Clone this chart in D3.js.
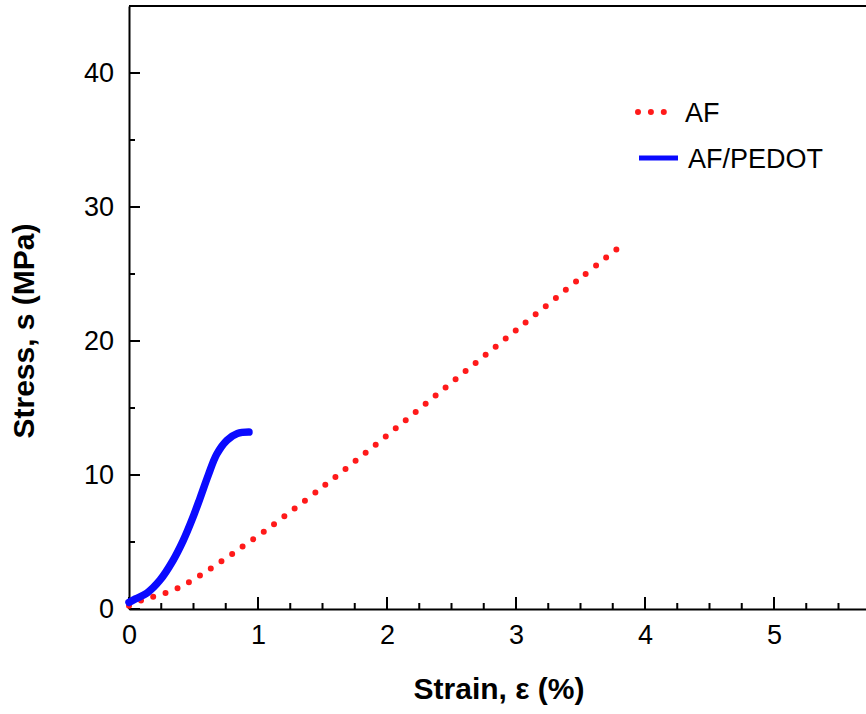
<!DOCTYPE html>
<html>
<head>
<meta charset="utf-8">
<script src="https://cdn.jsdelivr.net/npm/d3@7"></script>
<style>
  body { margin: 0; background: #fff; }
  svg { display: block; }
  text { font-family: Arial, "Liberation Sans", sans-serif; }
</style>
</head>
<body>
<div id="graph_draw"></div>
<script>
// data
var afStrain = [0, 0.1, 0.2, 0.3, 0.4, 0.5, 0.6, 0.7, 0.8, 0.9, 1.0, 1.5, 2.0, 2.5, 3.0, 3.5, 3.8];
var afStress = [0.25, 0.65, 0.95, 1.25, 1.65, 2.2, 2.8, 3.45, 4.1, 4.8, 5.45, 9.1, 12.95, 16.9, 20.8, 24.7, 27.0];

var pedotStrain = [0, 0.05, 0.14, 0.24, 0.34, 0.42, 0.49, 0.55, 0.615, 0.68, 0.76, 0.84, 0.93];
var pedotStress = [0.5, 0.75, 1.2, 2.15, 3.6, 5.1, 6.7, 8.25, 10.0, 11.55, 12.6, 13.1, 13.2];

var xTicks = [0, 1, 2, 3, 4, 5];
var yTicks = [0, 10, 20, 30, 40];
var xMinor = [0.25, 0.5, 0.75, 1.25, 1.5, 1.75, 2.25, 2.5, 2.75, 3.25, 3.5, 3.75, 4.25, 4.5, 4.75, 5.25, 5.5, 5.75];
var yMinor = [5, 15, 25, 35];

var seriesNames = ["AF", "AF/PEDOT"];

// set the dimensions of the graph
var width = 866, height = 714;
var margin = {left: 129, bottom: 609, top: 6};

var x = d3.scaleLinear().domain([0, 6]).range([margin.left, margin.left + 6 * 129]);
var y = d3.scaleLinear().domain([0, 45]).range([margin.bottom, margin.top]);

var svg = d3.select("#graph_draw").append("svg")
    .attr("width", width)
    .attr("height", height);

// top border
svg.append("line")
    .attr("x1", margin.left).attr("x2", width)
    .attr("y1", y(45)).attr("y2", y(45))
    .attr("stroke", "#000").attr("stroke-width", 2);

// X Axis
svg.append("g")
    .attr("transform", "translate(0," + margin.bottom + ")")
    .call(d3.axisBottom(x).tickValues(xTicks).tickSize(0).tickFormat(d3.format("d")))
    .call(function(g) {
        g.select(".domain").attr("stroke-width", 2);
        g.selectAll("text").attr("font-size", 27).attr("font-family", "Arial, 'Liberation Sans', sans-serif")
            .attr("fill", "#000").attr("dy", "0.75em").attr("y", 15);
    });

// Y Axis
svg.append("g")
    .attr("transform", "translate(" + margin.left + ",0)")
    .call(d3.axisLeft(y).tickValues(yTicks).tickSize(0).tickFormat(d3.format("d")))
    .call(function(g) {
        g.select(".domain").attr("stroke-width", 2);
        g.selectAll("text").attr("font-size", 27).attr("font-family", "Arial, 'Liberation Sans', sans-serif")
            .attr("fill", "#000").attr("x", -15);
    });

// ticks pointing inward (major + minor), drawn as one path
var tickPath = "";
xTicks.forEach(function(d) { tickPath += "M" + x(d) + "," + margin.bottom + "v-12"; });
xMinor.forEach(function(d) { tickPath += "M" + x(d) + "," + margin.bottom + "v-6"; });
yTicks.forEach(function(d) { tickPath += "M" + margin.left + "," + y(d) + "h11"; });
yMinor.forEach(function(d) { tickPath += "M" + margin.left + "," + y(d) + "h6"; });
svg.append("path")
    .attr("d", tickPath)
    .attr("fill", "none")
    .attr("stroke", "#000")
    .attr("stroke-width", 2);

// axis titles
svg.append("text")
    .attr("x", 499).attr("y", 699)
    .attr("text-anchor", "middle")
    .attr("font-size", 30).attr("font-weight", "bold")
    .text("Strain, \u03b5 (%)");

svg.append("text")
    .attr("transform", "translate(34,331) rotate(-90)")
    .attr("text-anchor", "middle")
    .attr("font-size", 30).attr("font-weight", "bold")
    .text("Stress, s (MPa)");

// lines
var line = d3.line()
    .x(function(d) { return x(d[0]); })
    .y(function(d) { return y(d[1]); })
    .curve(d3.curveCatmullRom.alpha(0.5));

var afData = afStrain.map(function(s, i) { return [s, afStress[i]]; });
var pedotData = pedotStrain.map(function(s, i) { return [s, pedotStress[i]]; });

svg.append("path")
    .datum(afData)
    .attr("d", line)
    .attr("fill", "none")
    .attr("stroke", "#ff1a1a")
    .attr("stroke-width", 6)
    .attr("stroke-linecap", "round")
    .attr("stroke-dasharray", "0 12.9");

svg.append("path")
    .datum(pedotData)
    .attr("d", line)
    .attr("fill", "none")
    .attr("stroke", "#0a0aff")
    .attr("stroke-width", 7.5)
    .attr("stroke-linecap", "round");

// legend
var legend = svg.append("g");
legend.append("line")
    .attr("x1", 638).attr("x2", 664).attr("y1", 112).attr("y2", 112)
    .attr("stroke", "#ff1a1a").attr("stroke-width", 6)
    .attr("stroke-linecap", "round").attr("stroke-dasharray", "0 12.9");
legend.append("text")
    .attr("x", 685).attr("y", 122)
    .attr("font-size", 27).text(seriesNames[0]);
legend.append("line")
    .attr("x1", 639).attr("x2", 678).attr("y1", 158).attr("y2", 158)
    .attr("stroke", "#0a0aff").attr("stroke-width", 5);
legend.append("text")
    .attr("x", 688).attr("y", 168)
    .attr("font-size", 27).text(seriesNames[1]);
</script>
</body>
</html>
